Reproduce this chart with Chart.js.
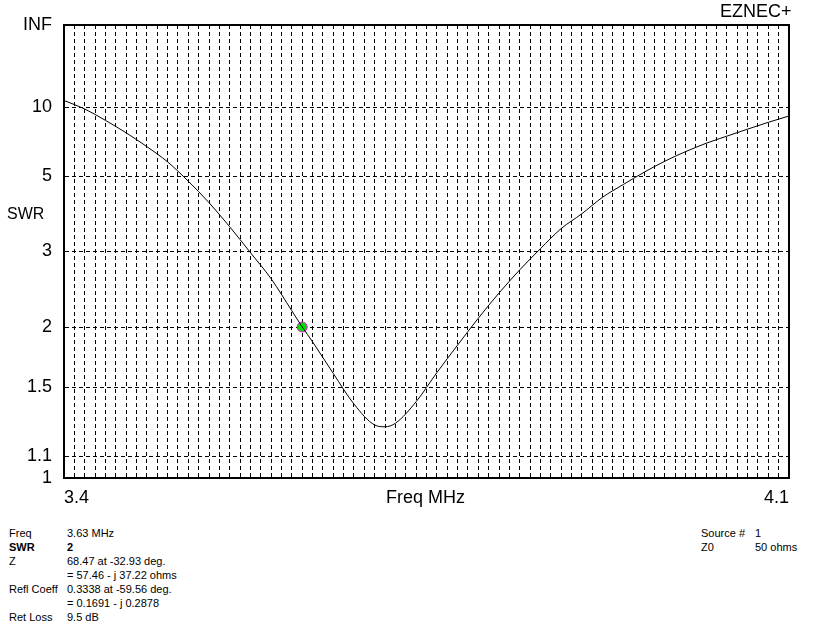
<!DOCTYPE html>
<html>
<head>
<meta charset="utf-8">
<script src="https://cdn.jsdelivr.net/npm/chart.js@4/dist/chart.umd.min.js"></script>
<style>
    body { margin: 0; background: #fff; font-family: "Liberation Sans", Arial, sans-serif; }
    #wrap { position: absolute; left: 0; top: 0; width: 832px; height: 520px; }
    .lbl { position: absolute; color: #000; font-size: 18px; white-space: nowrap; }
    .info { position: absolute; font-size: 11px; color: #000; line-height: 14px; white-space: nowrap; }
    .info b { font-weight: bold; }
</style>
</head>
<body>
<div id="wrap"><canvas id="swrChart"></canvas></div>
<div class="lbl" style="left:720px; top:1px;">EZNEC+</div>
<div class="lbl" style="left:7px; top:205px; font-size:16px;">SWR</div>
<div class="lbl" style="left:386px; top:487px;">Freq MHz</div>

<div class="info" style="left:9px; top:526px;">Freq<br><b>SWR</b><br>Z<br>&nbsp;<br>Refl Coeff<br>&nbsp;<br>Ret Loss</div>
<div class="info" style="left:67px; top:526px;">3.63 MHz<br><b>2</b><br>68.47 at -32.93 deg.<br>= 57.46 - j 37.22 ohms<br>0.3338 at -59.56 deg.<br>= 0.1691 - j 0.2878<br>9.5 dB</div>
<div class="info" style="left:701px; top:526px;">Source #<br>Z0</div>
<div class="info" style="left:755px; top:526px;">1<br>50 ohms</div>

<script>
        // Frequency sweep (MHz) and SWR
        const freqs = [3.40, 3.42, 3.44, 3.46, 3.48, 3.50, 3.52, 3.54, 3.56, 3.58,
                       3.60, 3.62, 3.63, 3.64, 3.66, 3.68, 3.70, 3.71, 3.72, 3.74,
                       3.76, 3.78, 3.80, 3.82, 3.84, 3.86, 3.88, 3.90, 3.92, 3.94,
                       3.96, 3.98, 4.00, 4.02, 4.04, 4.06, 4.08, 4.10];
        const swrValues = [11.0, 9.79, 8.50, 7.40, 6.45, 5.62, 4.80, 4.10, 3.49, 2.98,
                           2.57, 2.17, 2.00, 1.86, 1.60, 1.39, 1.265, 1.255, 1.275, 1.405,
                           1.606, 1.83, 2.09, 2.38, 2.70, 3.05, 3.45, 3.80, 4.26, 4.68,
                           5.15, 5.65, 6.15, 6.66, 7.15, 7.70, 8.31, 8.96];

        // Marker
        const markerFreq = [3.63];
        const markerSwr = [2];

        // Axis ticks
        const swrTicks = [1, 1.1, 1.5, 2, 3, 5, 10, Infinity];
        const swrTickLabels = ['1', '1.1', '1.5', '2', '3', '5', '10', 'INF'];
        const freqTickLabels = ['3.4', '4.1'];
        const freqMin = 3.4, freqMax = 4.1, freqGridStep = 0.01;

        // EZNEC plots SWR on a scale linear in |reflection coefficient|
        function gamma(swr) {
            return isFinite(swr) ? (swr - 1) / (swr + 1) : 1;
        }

        const curve = freqs.map((f, i) => ({ x: f, y: gamma(swrValues[i]) }));
        const marker = markerFreq.map((f, i) => ({ x: f, y: gamma(markerSwr[i]) }));

        const frameBox = {
            id: 'frameBox',
            afterDraw(chart) {
                const a = chart.chartArea;
                const ctx = chart.ctx;
                ctx.save();
                ctx.strokeStyle = '#000';
                ctx.lineWidth = 2;
                ctx.setLineDash([]);
                ctx.strokeRect(a.left, a.top, a.right - a.left, a.bottom - a.top);
                ctx.restore();
            }
        };

        let swrChart;

        function initChart() {
            const ctx = document.getElementById('swrChart').getContext('2d');
            swrChart = new Chart(ctx, {
                type: 'line',
                data: {
                    datasets: [{
                        data: curve,
                        borderColor: '#000',
                        borderWidth: 1,
                        pointRadius: 0,
                        cubicInterpolationMode: 'monotone',
                        fill: false
                    },
                    {
                        data: marker,
                        showLine: false,
                        pointRadius: 5,
                        pointBackgroundColor: '#00e000',
                        pointBorderColor: '#ff00ff',
                        pointBorderWidth: 1
                    }]
                },
                options: {
                    responsive: true,
                    maintainAspectRatio: false,
                    animation: false,
                    layout: {
                        padding: { left: 0, right: 43, top: 25, bottom: 0 }
                    },
                    plugins: {
                        legend: { display: false },
                        tooltip: { enabled: false }
                    },
                    scales: {
                        x: {
                            type: 'linear',
                            min: freqMin,
                            max: freqMax,
                            afterFit: scale => { scale.height = 42; },
                            ticks: {
                                stepSize: freqGridStep,
                                autoSkip: false,
                                maxRotation: 0,
                                align: 'inner',
                                padding: 9,
                                color: '#000',
                                font: { family: 'Liberation Sans', size: 18 },
                                callback: function (value, index, ticks) {
                                    if (index === 0) return freqTickLabels[0];
                                    if (index === ticks.length - 1) return freqTickLabels[1];
                                    return '';
                                }
                            },
                            grid: {
                                color: '#000',
                                lineWidth: 1,
                                drawTicks: false
                            },
                            border: {
                                color: '#000',
                                width: 2,
                                dash: [4, 3]
                            }
                        },
                        y: {
                            type: 'linear',
                            min: 0,
                            max: 1,
                            afterFit: scale => { scale.width = 64; },
                            afterBuildTicks: scale => {
                                scale.ticks = swrTicks.map(s => ({ value: gamma(s) }));
                            },
                            ticks: {
                                padding: 12,
                                color: '#000',
                                font: { family: 'Liberation Sans', size: 18 },
                                callback: function (value, index) {
                                    return swrTickLabels[index];
                                }
                            },
                            grid: {
                                color: '#000',
                                lineWidth: 1,
                                drawTicks: false
                            },
                            border: {
                                color: '#000',
                                width: 2,
                                dash: [4, 3]
                            }
                        }
                    }
                },
                plugins: [frameBox]
            });
        }

        window.onload = function () {
            initChart();
        };
</script>
</body>
</html>
